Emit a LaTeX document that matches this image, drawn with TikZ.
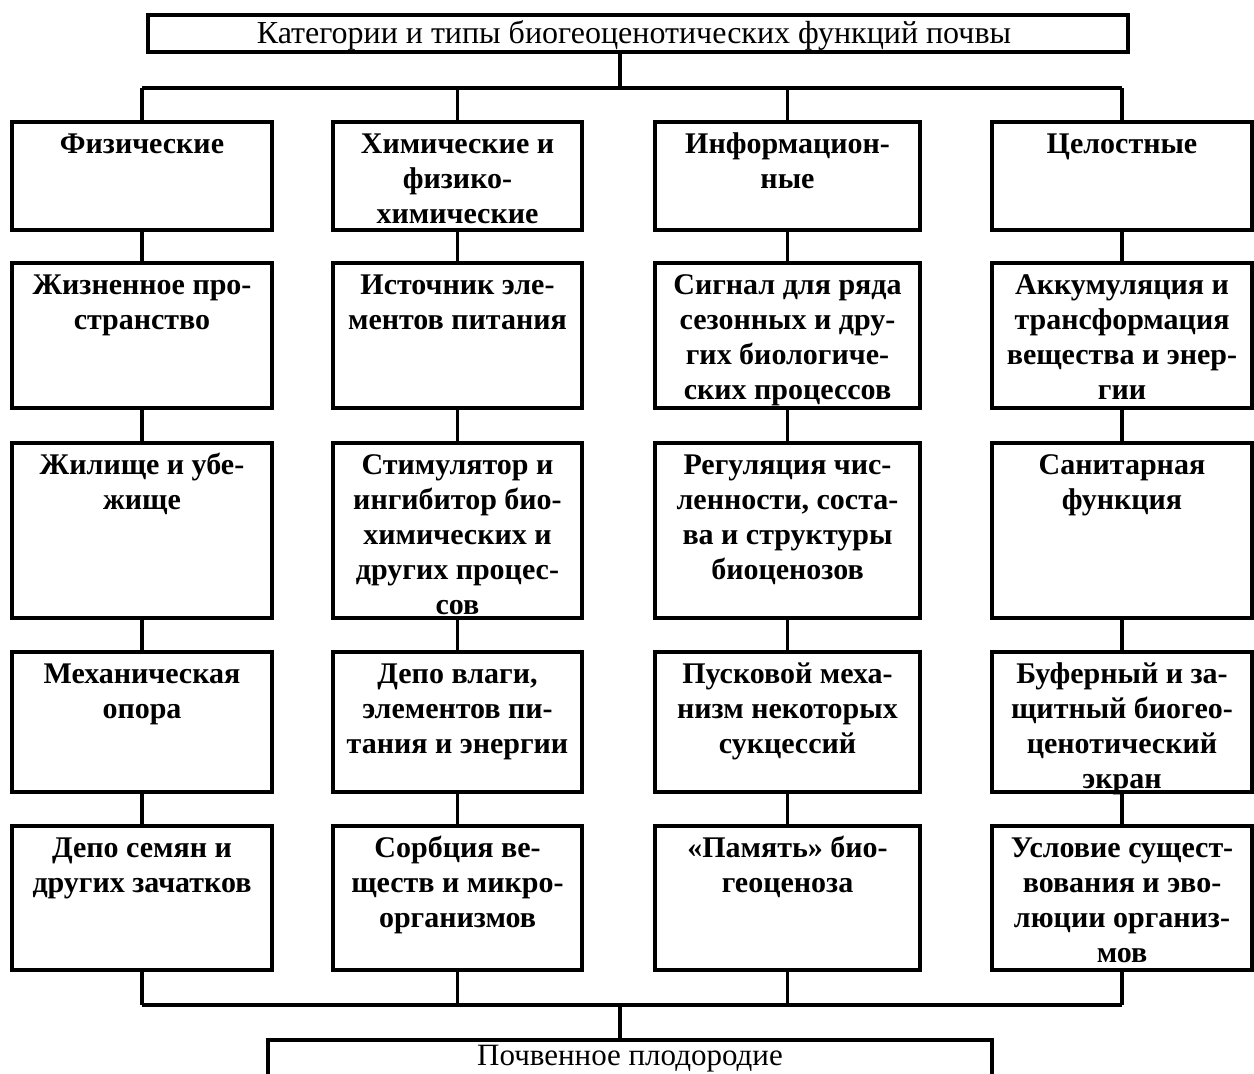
\documentclass[tikz,border=0pt]{standalone}
\usepackage{fontspec}
\setmainfont{Liberation Serif}
\begin{document}
\begin{tikzpicture}[x=0.5pt,y=-0.5pt,
  cellbox/.style={draw, line width=2pt, inner sep=0pt, outer sep=0pt},
  celltext/.style={inner sep=0pt, align=center, anchor=north,
    font=\bfseries\fontsize{15}{17.5}\selectfont},
  plaintext/.style={inner sep=0pt, font=\fontsize{15.5}{18}\selectfont},
  headtext/.style={inner sep=0pt, font=\fontsize{16}{19}\selectfont},
  link/.style={line width=1.6pt}]
\useasboundingbox (0,0) rectangle (1254,1073);

% box with its text set from the top edge: name, left, top, right, bottom, text
\newcommand\cellnode[6]{%
  \node[cellbox, minimum width={(#4-#2)*0.5pt}, minimum height={(#5-#3)*0.5pt}]
    (#1) at ({(#2+#4)/2},{(#3+#5)/2}) {};
  \node[celltext] (#1t) at ([yshift=-3.25pt]#1.north) {\strut#6};
}

% title
\node[cellbox, minimum width=490pt, minimum height=18.5pt] (title) at (638,33.5) {};
\node[headtext] (titlet) at ([xshift=-2pt,yshift=-1pt]title.center)
  {Категории и типы биогеоценотических функций почвы};

% column 1
\cellnode{a1}{12}{122}{272}{230}{Физические}
\cellnode{a2}{12}{263}{272}{408}{Жизненное про-\\странство}
\cellnode{a3}{12}{443}{272}{618}{Жилище и убе-\\жище}
\cellnode{a4}{12}{652}{272}{792}{Механическая\\опора}
\cellnode{a5}{12}{826}{272}{970}{Депо семян и\\других зачатков}

% column 2
\cellnode{b1}{333}{122}{582}{230}{Химические и\\физико-\\химические}
\cellnode{b2}{333}{263}{582}{408}{Источник эле-\\ментов питания}
\cellnode{b3}{333}{443}{582}{618}{Стимулятор и\\ингибитор био-\\химических и\\других процес-\\сов}
\cellnode{b4}{333}{652}{582}{792}{Депо влаги,\\элементов пи-\\тания и энергии}
\cellnode{b5}{333}{826}{582}{970}{Сорбция ве-\\ществ и микро-\\организмов}

% column 3
\cellnode{c1}{655}{122}{920}{230}{Информацион-\\ные}
\cellnode{c2}{655}{263}{920}{408}{Сигнал для ряда\\сезонных и дру-\\гих биологиче-\\ских процессов}
\cellnode{c3}{655}{443}{920}{618}{Регуляция чис-\\ленности, соста-\\ва и структуры\\биоценозов}
\cellnode{c4}{655}{652}{920}{792}{Пусковой меха-\\низм некоторых\\сукцессий}
\cellnode{c5}{655}{826}{920}{970}{«Память» био-\\геоценоза}

% column 4
\cellnode{d1}{992}{122}{1252}{230}{Целостные}
\cellnode{d2}{992}{263}{1252}{408}{Аккумуляция и\\трансформация\\вещества и энер-\\гии}
\cellnode{d3}{992}{443}{1252}{618}{Санитарная\\функция}
\cellnode{d4}{992}{652}{1252}{792}{Буферный и за-\\щитный биогео-\\ценотический\\экран}
\cellnode{d5}{992}{826}{1252}{970}{Условие сущест-\\вования и эво-\\люции организ-\\мов}

% result box, running past the lower edge
\node[cellbox, minimum width=362pt, minimum height=30pt] (soil) at (630,1070) {};
\node[plaintext] (soilt) at (630,1059) {Почвенное плодородие};

% upper distribution bus
\coordinate (topbus) at (620,88);
\draw[link] (title.south -| topbus) -- (topbus);
\draw[link] (a1.north |- topbus) -- (d1.north |- topbus);
\foreach \n in {a1,b1,c1,d1}
  \draw[link] (\n.north |- topbus) -- (\n.north);

% links down each column
\foreach \col in {a,b,c,d} {
  \draw[link] (\col1) -- (\col2);
  \draw[link] (\col2) -- (\col3);
  \draw[link] (\col3) -- (\col4);
  \draw[link] (\col4) -- (\col5);
}

% lower collecting bus
\coordinate (botbus) at (620,1005);
\draw[link] (a5.south |- botbus) -- (d5.south |- botbus);
\foreach \n in {a5,b5,c5,d5}
  \draw[link] (\n.south) -- (\n.south |- botbus);
\draw[link] (botbus) -- (soil.north -| botbus);
\end{tikzpicture}
\end{document}
